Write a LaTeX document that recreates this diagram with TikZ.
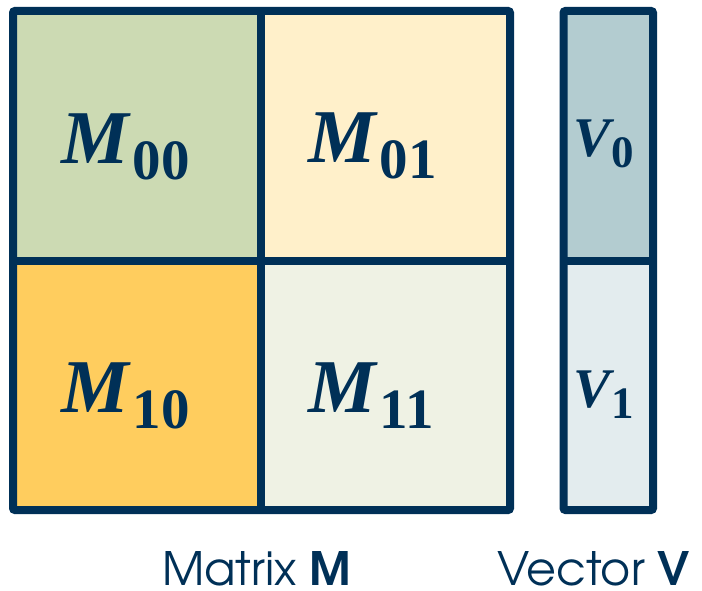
\documentclass[tikz,border=0pt]{standalone}
\usepackage{fontspec}
\setmainfont{Liberation Serif}
\newfontfamily\gothic{TeX Gyre Adventor}
\definecolor{navy}{HTML}{003057}
\definecolor{cgreen}{HTML}{CCDAB3}
\definecolor{ccream}{HTML}{FFF0CA}
\definecolor{corange}{HTML}{FFCD5E}
\definecolor{cpale}{HTML}{EFF2E4}
\definecolor{cvzero}{HTML}{B3CCD0}
\definecolor{cvone}{HTML}{E3ECEE}
\begin{document}
\begin{tikzpicture}[x=1pt,y=-1pt,
  grid/.style={draw=navy,line width=8pt},
  mlab/.style={anchor=base west,inner sep=0pt,text=navy},
  captxt/.style={anchor=base west,inner sep=0pt,text=navy,font=\gothic\fontsize{46}{46}\selectfont}]
\useasboundingbox (0,0) rectangle (702,591);
% cells
\fill[cgreen] (13,11) rectangle (261,261);
\fill[ccream] (261,11) rectangle (510,261);
\fill[corange] (13,261) rectangle (261,510);
\fill[cpale] (261,261) rectangle (510,510);
\fill[cvzero] (563.5,11) rectangle (653,261);
\fill[cvone] (563.5,261) rectangle (653,510);
% grid
\draw[grid,rounded corners=2pt] (13,11) rectangle (510,510);
\draw[grid] (261,11) -- (261,510);
\draw[grid] (13,261) -- (510,261);
\draw[grid,rounded corners=2pt] (563.5,11) rectangle (653,510);
\draw[grid] (563.5,261) -- (653,261);
% labels
\newcommand{\Mlab}[1]{{\fontsize{76}{76}\selectfont\bfseries\itshape M}\kern4pt{\fontsize{57}{57}\selectfont\bfseries\raisebox{-16pt}{#1}}}
\newcommand{\Vlab}[1]{{\fontsize{56}{56}\selectfont\bfseries\itshape V}\kern1pt{\fontsize{45}{45}\selectfont\bfseries\raisebox{-11pt}{#1}}}
\node[mlab] (m00) at (61,164) {\Mlab{00}};
\node[mlab] (m01) at (308,163) {\Mlab{01}};
\node[mlab] (m10) at (61,412) {\Mlab{10}};
\node[mlab] (m11) at (308,412) {\Mlab{11}};
\node[mlab] (v0) at (573,157) {\Vlab{0}};
\node[mlab] (v1) at (573,407) {\Vlab{1}};
\node[captxt] (capm) at (162,585) {Matrix {\bfseries M}};
\node[captxt] (capv) at (497,585) {Vector {\bfseries V}};
\end{tikzpicture}
\end{document}
